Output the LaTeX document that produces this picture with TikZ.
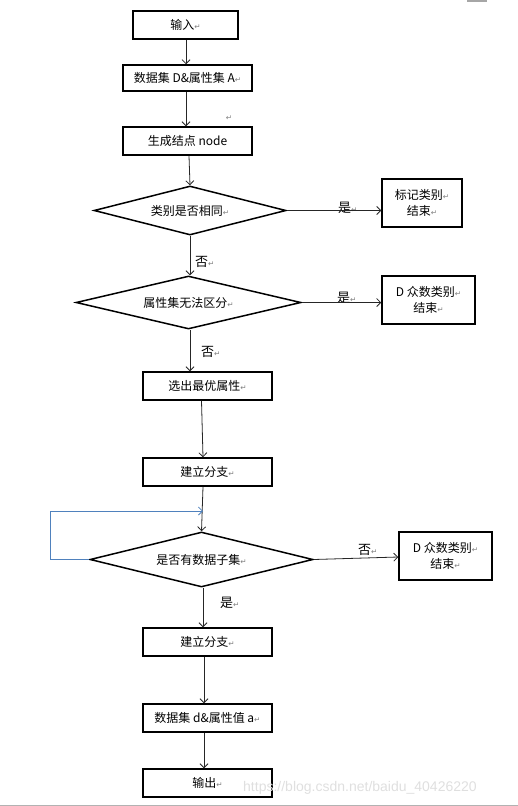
\documentclass[tikz,border=0pt]{standalone}
\usepackage{fontspec}
\setmainfont{Noto Sans CJK SC}
\newfontfamily\retfont{DejaVu Sans}
\newfontfamily\wmfont{Liberation Sans}
\usetikzlibrary{shapes.geometric,arrows.meta}
\newcommand\rtm{{\retfont\fontsize{7.5}{8}\selectfont\color{gray}↵}}
\definecolor{loopblue}{RGB}{79,129,189}
\begin{document}
\begin{tikzpicture}[x=1pt,y=-1pt,
  every node/.style={font=\fontsize{12}{16}\selectfont, inner sep=0pt},
  boxnode/.style={draw, line width=1.5pt, minimum height=28pt, align=center},
  decnode/.style={draw, line width=1.5pt, shape=diamond, shape aspect=4, align=center},
  arr/.style={draw=black!85, line width=0.8pt, -{Straight Barb[length=4pt,width=8pt]}},
  lbl/.style={anchor=west, font=\fontsize{13}{14}\selectfont}]
\useasboundingbox (0,0) rectangle (518,806);
\fill[gray!70] (467,0) rectangle (487,1.5);
\fill[gray!60] (0,804.5) rectangle (518,806);

\node[boxnode, minimum width=105pt] (in) at (185.5,25) {输入\rtm};
\node[boxnode, minimum width=129pt, minimum height=26pt] (data) at (187.5,78) {数据集 D\&属性集 A\rtm};
\node (stray) at (229,118) {\rtm};
\node[boxnode, minimum width=129pt] (gen) at (187.5,141) {生成结点 node};
\node[decnode, minimum width=192pt, minimum height=49pt] (d1) at (190,210.5) {类别是否相同\rtm};
\node[boxnode, minimum width=80pt, minimum height=48pt] (mark) at (422,203) {标记类别\rtm\\结束\rtm};
\node[decnode, minimum width=225pt, minimum height=53pt] (d2) at (188.5,302.5) {属性集无法区分\rtm};
\node[boxnode, minimum width=93pt, minimum height=48pt] (dz1) at (428.5,300) {D 众数类别\rtm\\结束\rtm};
\node[boxnode, minimum width=129pt] (sel) at (207.5,386) {选出最优属性\rtm};
\node[boxnode, minimum width=129pt] (br1) at (207.5,472) {建立分支\rtm};
\node[decnode, minimum width=223pt, minimum height=55pt] (d3) at (201.5,559.5) {是否有数据子集\rtm};
\node[boxnode, minimum width=93pt, minimum height=48pt] (dz2) at (445.5,556) {D 众数类别\rtm\\结束\rtm};
\node[boxnode, minimum width=129pt] (br2) at (207.5,642) {建立分支\rtm};
\node[boxnode, minimum width=129pt] (dd) at (207.5,718) {数据集 d\&属性值 a\rtm};
\node[boxnode, minimum width=129pt] (out) at (207.5,783) {输出\rtm};

% labels
\node[lbl] (l1) at (338,208) {是\rtm};
\node[lbl] (l2) at (195,262) {否\rtm};
\node[lbl] (l3) at (337,298) {是\rtm};
\node[lbl] (l4) at (201,352) {否\rtm};
\node[lbl] (l5) at (358,550) {否\rtm};
\node[lbl] (l6) at (220,603) {是\rtm};

% vertical connectors
\draw[arr] ([xshift=0.5pt]in.south) -- ([xshift=0.5pt]in.south |- data.north);
\draw[arr] ([xshift=-1.5pt]data.south) -- ([xshift=-1.5pt]data.south |- gen.north);
\draw[arr] ([xshift=1.5pt]gen.south) -- (d1.north);
\draw[arr] (d1.south) -- (d1.south |- d2.north);
\draw[arr] ([xshift=1.5pt]d2.south) -- ([xshift=1.5pt]d2.south |- sel.north);
\draw[arr] ([xshift=-6pt]sel.south) -- ([xshift=-4.5pt]br1.north);
\draw[arr] ([xshift=-4.5pt]br1.south) -- (d3.north);
\draw[arr] ([xshift=1.5pt]d3.south) -- ([xshift=-4.5pt]br2.north);
\draw[arr] ([xshift=-3.5pt]br2.south) -- ([xshift=-3.5pt]dd.north);
\draw[arr] ([xshift=-3.5pt]dd.south) -- ([xshift=-3.5pt]out.north);

% horizontal connectors
\draw[arr] (d1.east) -- (d1.east -| mark.west);
\draw[arr] (d2.east) -- (d2.east -| dz1.west);
\draw[arr] (d3.east) -- ([yshift=2.5pt]d3.east -| dz2.west);

% loop back
\coordinate (loopin) at (203,511);
\draw[draw=loopblue, line width=0.8pt, -{Straight Barb[length=4pt,width=8pt]}]
  (d3.west) -- ++(-39,0) |- (loopin);

% watermark
\node[anchor=west, font=\wmfont\fontsize{14}{16}\selectfont, text=gray!25] (wm) at (243,788) {https://blog.csdn.net/baidu\_40426220};
\end{tikzpicture}
\end{document}
